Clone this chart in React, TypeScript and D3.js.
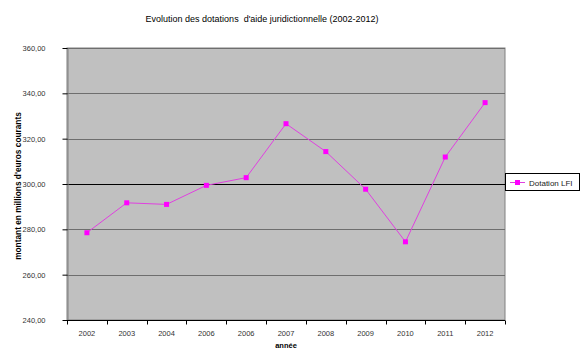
import { useEffect, useRef } from "react";
import * as d3 from "d3";

// ----- Data --------------------------------------------------------------
const years = ["2002", "2003", "2004", "2006", "2006", "2007", "2008", "2009", "2010", "2011", "2012"];
const dotationLFI = [278.5, 291.7, 291.0, 299.4, 302.8, 326.6, 314.3, 297.7, 274.5, 311.9, 335.9];
const yTicks = [240, 260, 280, 300, 320, 340, 360];

const TITLE = "Evolution des dotations\u00a0 d'aide juridictionnelle (2002-2012)";
const FONT = "'Liberation Sans', Arial, sans-serif";

const Chart = () => {
  const svgRef = useRef<SVGSVGElement | null>(null);

  useEffect(() => {
    const svg = d3.select(svgRef.current);
    svg.selectAll("*").remove();

    const width = 585;
    const height = 363;
    const plot = { left: 67, right: 505, top: 48, bottom: 320 };

    svg.attr("width", width).attr("height", height).style("font-family", FONT);

    // background
    svg.append("rect").attr("width", width).attr("height", height).attr("fill", "#ffffff");

    // ----- Scales -------------------------------------------------------
    const idx = years.map((_, i) => i);
    const x = d3
      .scaleBand<number>()
      .domain(idx)
      .range([plot.left, plot.right])
      .paddingInner(0)
      .paddingOuter(0);

    const y = d3.scaleLinear().domain([240, 360]).range([plot.bottom, plot.top]);

    // ----- Plot area ----------------------------------------------------
    svg
      .append("rect")
      .attr("x", plot.left)
      .attr("y", plot.top)
      .attr("width", plot.right - plot.left)
      .attr("height", plot.bottom - plot.top)
      .attr("fill", "#c0c0c0")
      .attr("stroke", "#808080")
      .attr("stroke-width", 1);

    // gridlines
    svg
      .append("g")
      .selectAll("line")
      .data(yTicks.filter((t) => t !== 240))
      .join("line")
      .attr("x1", plot.left)
      .attr("x2", plot.right)
      .attr("y1", (d) => Math.round(y(d)) + 0.5)
      .attr("y2", (d) => Math.round(y(d)) + 0.5)
      .attr("stroke", (d) => (d === 300 ? "#000000" : "#6e6e6e"))
      .attr("stroke-width", 1);

    // ----- Y axis -------------------------------------------------------
    const yAxis = svg.append("g").attr("transform", `translate(${plot.left + 0.5},0)`);
    yAxis
      .call(
        d3
          .axisLeft(y)
          .tickValues(yTicks)
          .tickSize(5)
          .tickSizeOuter(0)
          .tickPadding(17)
          .tickFormat((d) => d3.format(".2f")(d as number).replace(".", ",")),
      )
      .call((s) => s.select(".domain").attr("stroke", "#808080"))
      .call((s) => s.selectAll(".tick line").attr("stroke", "#000000"))
      .call((s) =>
        s
          .selectAll("text")
          .attr("font-size", 7.5)
          .attr("font-family", FONT)
          .attr("fill", "#333"),
      );

    // ----- X axis -------------------------------------------------------
    svg
      .append("line")
      .attr("x1", plot.left - 4)
      .attr("x2", plot.right)
      .attr("y1", plot.bottom + 0.5)
      .attr("y2", plot.bottom + 0.5)
      .attr("stroke", "#000000");

    const xAxis = svg.append("g").attr("transform", `translate(0,${plot.bottom + 0.5})`);
    xAxis
      .selectAll("line")
      .data([...idx, idx.length])
      .join("line")
      .attr("x1", (d) => Math.round(plot.left + d * x.bandwidth()) + 0.5)
      .attr("x2", (d) => Math.round(plot.left + d * x.bandwidth()) + 0.5)
      .attr("y1", 0)
      .attr("y2", 4)
      .attr("stroke", "#000000");

    xAxis
      .selectAll("text")
      .data(idx)
      .join("text")
      .attr("x", (d) => (x(d) as number) + x.bandwidth() / 2)
      .attr("y", 15)
      .attr("text-anchor", "middle")
      .attr("font-size", 7.5)
      .attr("fill", "#333")
      .text((d) => years[d]);

    // ----- Axis titles --------------------------------------------------
    svg
      .append("text")
      .attr("x", (plot.left + plot.right) / 2)
      .attr("y", 348)
      .attr("text-anchor", "middle")
      .attr("font-size", 7.5)
      .attr("font-weight", "bold")
      .text("année");

    svg
      .append("text")
      .attr("transform", `translate(21,${(plot.top + plot.bottom) / 2 + 2}) rotate(-90)`)
      .attr("text-anchor", "middle")
      .attr("font-size", 8.3)
      .attr("font-weight", "bold")
      .text("montant en millions d'euros courants");

    // ----- Title ---------------------------------------------------------
    svg
      .append("text")
      .attr("x", 262)
      .attr("y", 22)
      .attr("text-anchor", "middle")
      .attr("font-size", 9)
      .attr("fill", "#000")
      .text(TITLE);

    // ----- Series -------------------------------------------------------
    const cx = (i: number) => (x(i) as number) + x.bandwidth() / 2;
    const line = d3
      .line<number>()
      .x((_, i) => cx(i))
      .y((d) => y(d));

    svg
      .append("path")
      .datum(dotationLFI)
      .attr("fill", "none")
      .attr("stroke", "#e040e0")
      .attr("stroke-width", 1)
      .attr("d", line);

    svg
      .append("g")
      .selectAll("rect")
      .data(dotationLFI)
      .join("rect")
      .attr("x", (_, i) => cx(i) - 2.5)
      .attr("y", (d) => y(d) - 2.5)
      .attr("width", 5)
      .attr("height", 5)
      .attr("fill", "#ff00ff");

    // ----- Legend -------------------------------------------------------
    const legend = svg.append("g").attr("transform", "translate(505,173)");
    legend
      .append("rect")
      .attr("x", 0.5)
      .attr("y", 0.5)
      .attr("width", 74)
      .attr("height", 17)
      .attr("fill", "#ffffff")
      .attr("stroke", "#000000");
    legend
      .append("line")
      .attr("x1", 5)
      .attr("x2", 20)
      .attr("y1", 9.5)
      .attr("y2", 9.5)
      .attr("stroke", "#e040e0");
    legend
      .append("rect")
      .attr("x", 10)
      .attr("y", 7)
      .attr("width", 5)
      .attr("height", 5)
      .attr("fill", "#ff00ff");
    legend
      .append("text")
      .attr("x", 24)
      .attr("y", 12.5)
      .attr("font-size", 8)
      .attr("fill", "#222")
      .text("Dotation LFI");
  }, []);

  return <svg ref={svgRef} style={{ position: "absolute", left: 0, top: 0, display: "block" }} />;
};

export default function App() {
  return <Chart />;
}
